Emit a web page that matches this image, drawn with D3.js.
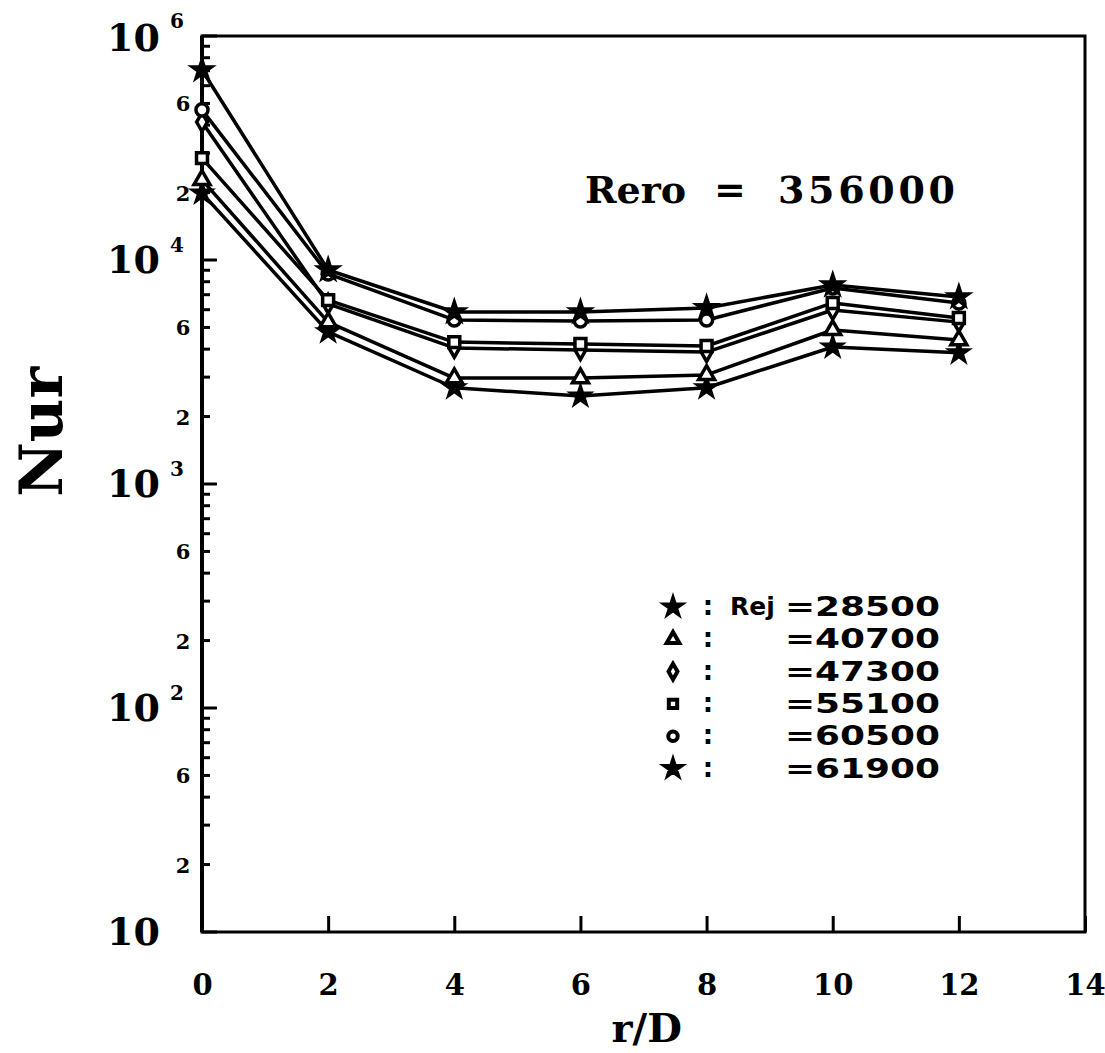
<!DOCTYPE html>
<html>
<head>
<meta charset="utf-8">
<script src="https://cdn.jsdelivr.net/npm/d3@7"></script>
<style>
  body { margin: 0; background: #fff; }
  text { fill: #000; }
</style>
</head>
<body>
<div id="graph"></div>
<script>
// r/D stations and the Nur readings for each jet Reynolds number
var rD = [0, 2, 4, 6, 8, 10, 12];
var rej = ["28500", "40700", "47300", "55100", "60500", "61900"];
var nur28500 = [19900, 4780, 2690, 2470, 2690, 4090, 3850];
var nur40700 = [22800, 5280, 2970, 2970, 3070, 4870, 4390];
var nur47300 = [41300, 6370, 4050, 3960, 3880, 5980, 5280];
var nur55100 = [28500, 6620, 4300, 4220, 4130, 6430, 5510];
var nur60500 = [46800, 8670, 5400, 5340, 5400, 7500, 6430];
var nur61900 = [70500, 9020, 5860, 5860, 6110, 7730, 6840];

var xTicks = [0, 2, 4, 6, 8, 10, 12, 14];
var yDecades = [10, 100, 1000, 10000, 100000];
var yDecadeSup = ["", "2", "3", "4", "6"];
var yMinorLabel = {2: "2", 5: "6"};

var margin = {top: 36, right: 20, bottom: 121, left: 202},
    width = 1105 - margin.left - margin.right,
    height = 1053 - margin.top - margin.bottom;

var svg = d3.select("#graph")
  .append("svg")
    .attr("width", width + margin.left + margin.right)
    .attr("height", height + margin.top + margin.bottom)
  .append("g")
    .attr("transform", "translate(" + margin.left + "," + margin.top + ")");

var x = d3.scaleLinear().domain([0, 14]).range([0, width]);
var y = d3.scaleLog().domain([10, 100000]).range([height, 0]);

var serif = "'DejaVu Serif', serif";

// frame
svg.append("rect")
  .attr("width", width).attr("height", height)
  .attr("fill", "none").attr("stroke", "#000").attr("stroke-width", 3);
svg.append("line")
  .attr("x1", 0).attr("x2", 0).attr("y1", 0).attr("y2", height)
  .attr("stroke", "#000").attr("stroke-width", 4);

// bottom axis, ticks pointing inward
var xAxis = svg.append("g")
  .attr("transform", "translate(0," + height + ")")
  .call(d3.axisBottom(x).tickValues(xTicks).tickSizeInner(-16).tickSizeOuter(0).tickPadding(42));
xAxis.select(".domain").remove();
xAxis.selectAll("line").attr("stroke-width", 3);
xAxis.selectAll("text")
  .style("font-family", serif).style("font-weight", "bold").style("font-size", "29px");

// left axis: decade and minor ticks
var yTicks = y.ticks();
svg.append("g").selectAll("line")
  .data(yTicks)
  .join("line")
    .attr("x1", 0)
    .attr("x2", d => yDecades.indexOf(d) >= 0 ? 15 : 8)
    .attr("y1", d => y(d)).attr("y2", d => y(d))
    .attr("stroke", "#000").attr("stroke-width", 3);

svg.append("g").selectAll("text")
  .data(yDecades)
  .join("text")
    .attr("x", -42)
    .attr("y", (d, i) => y(d) + (i == yDecades.length - 1 ? 15 : 13))
    .attr("text-anchor", "end")
    .style("font-family", serif).style("font-weight", "bold").style("font-size", "38px")
    .text("10");
svg.append("g").selectAll("text")
  .data(yDecades)
  .join("text")
    .attr("x", -32)
    .attr("y", d => y(d) - 8)
    .style("font-family", serif).style("font-weight", "bold").style("font-size", "20px")
    .text((d, i) => yDecadeSup[i]);

function mantissa(d) {
  return Math.round(d / Math.pow(10, Math.floor(Math.log10(d) + 1e-9)));
}
svg.append("g").selectAll("text")
  .data(yTicks.filter(d => yMinorLabel[mantissa(d)] && d < 100000))
  .join("text")
    .attr("x", -19)
    .attr("y", d => y(d) + 8)
    .attr("text-anchor", "middle")
    .style("font-family", serif).style("font-weight", "bold").style("font-size", "21px")
    .text(d => yMinorLabel[mantissa(d)]);

// axis titles
svg.append("text")
  .attr("transform", "translate(" + (-140) + "," + (height / 2 - 52) + ") rotate(-90)")
  .attr("text-anchor", "middle")
  .style("font-family", serif).style("font-weight", "bold").style("font-size", "60px")
  .text("Nur");
svg.append("text")
  .attr("x", x(7.05)).attr("y", height + 110)
  .attr("text-anchor", "middle")
  .style("font-family", serif).style("font-weight", "bold").style("font-size", "40px")
  .text("r/D");

// Rero annotation
var rero = svg.append("text")
  .attr("x", 383).attr("y", 167)
  .style("font-family", serif).style("font-weight", "bold").style("font-size", "38px");
rero.append("tspan").text("Rero");
rero.append("tspan").attr("x", 512).text("=");
rero.append("tspan").attr("x", 576).attr("textLength", 177).attr("lengthAdjust", "spacing").text("356000");

// series
var series = [nur28500, nur40700, nur47300, nur55100, nur60500, nur61900];
var symbols = [d3.symbolStar, d3.symbolTriangle, d3.symbolDiamond, d3.symbolSquare, d3.symbolCircle, d3.symbolStar];
var symSize = [95, 110, 100, 120, 115, 110];
var solid = [true, false, false, false, false, true];

var line = d3.line()
  .x((d, i) => x(rD[i]))
  .y(d => y(d));

svg.append("g").selectAll("path")
  .data(series)
  .join("path")
    .attr("d", line)
    .attr("fill", "none")
    .attr("stroke", "#000")
    .attr("stroke-width", 3.5)
    .attr("stroke-linejoin", "round");

series.forEach(function(vals, s) {
  svg.append("g").selectAll("path")
    .data(vals)
    .join("path")
      .attr("transform", (d, i) => "translate(" + x(rD[i]) + "," + y(d) + ")")
      .attr("d", d3.symbol().type(symbols[s]).size(symSize[s]))
      .attr("fill", solid[s] ? "#000" : "#fff")
      .attr("stroke", "#000")
      .attr("stroke-width", 3.5);
});

// legend
var legend = svg.append("g").attr("transform", "translate(471,571)");
rej.forEach(function(r, i) {
  var row = legend.append("g").attr("transform", "translate(0," + (i * 32.3) + ")");
  row.append("path")
    .attr("d", d3.symbol().type(symbols[i]).size(i == 0 || i == 5 ? 80 : 70))
    .attr("fill", solid[i] ? "#000" : "#fff")
    .attr("stroke", "#000").attr("stroke-width", 4);
  row.append("text")
    .attr("x", 35).attr("y", 8).attr("text-anchor", "middle")
    .style("font-family", "'DejaVu Sans', sans-serif").style("font-weight", "bold").style("font-size", "26px")
    .text(":");
  if (i == 0) {
    row.append("text")
      .attr("x", 57).attr("y", 8)
      .style("font-family", "'DejaVu Sans', sans-serif").style("font-weight", "bold").style("font-size", "25px")
      .text("Rej");
  }
  row.append("text")
    .attr("x", 267).attr("y", 9).attr("text-anchor", "end")
    .attr("textLength", 155).attr("lengthAdjust", "spacingAndGlyphs")
    .style("font-family", "'DejaVu Sans', sans-serif").style("font-weight", "bold").style("font-size", "26px")
    .text("=" + r);
});
</script>
</body>
</html>
